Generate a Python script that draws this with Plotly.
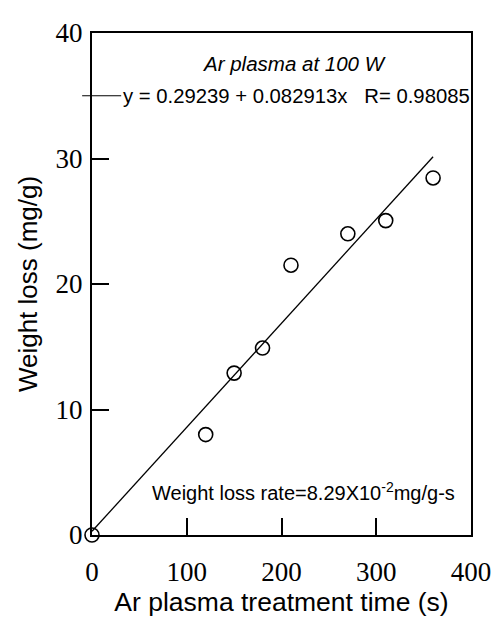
import plotly.graph_objects as go

# Data
time_s = [0, 120, 150, 180, 210, 270, 310, 360]
weight_loss = [0, 8.0, 12.9, 14.9, 21.5, 24.0, 25.05, 28.45]
fit_intercept = 0.29239
fit_slope = 0.082913
fit_r = 0.98085
fit_x = [0, 360]
fit_y = [fit_intercept + fit_slope * x for x in fit_x]
x_ticks = [0, 100, 200, 300, 400]
y_ticks = [0, 10, 20, 30, 40]

SANS = "Liberation Sans, Arial, sans-serif"
SERIF = "Liberation Serif, Times New Roman, serif"

fig = go.Figure()
fig.add_trace(go.Scatter(
    x=fit_x, y=fit_y, mode="lines",
    line=dict(color="black", width=1.3), showlegend=False,
))
fig.add_trace(go.Scatter(
    x=time_s, y=weight_loss, mode="markers",
    marker=dict(symbol="circle-open", size=14, color="black", line=dict(width=1.6)),
    cliponaxis=False, showlegend=False,
))

# legend-like line segment crossing the y axis
legend_y = 35
fig.add_shape(type="line", xref="paper", yref="y",
              x0=-0.026, x1=0.077, y0=legend_y, y1=legend_y,
              line=dict(color="black", width=1.2))

fig.add_annotation(x=30.5, y=legend_y, xref="x", yref="y", xanchor="left", yanchor="middle",
                   text=f"y = {fit_intercept} + {fit_slope}x   R= {fit_r}",
                   showarrow=False, font=dict(family=SANS, size=20.3, color="black"))
fig.add_annotation(x=213, y=37.6, xref="x", yref="y", xanchor="center", yanchor="middle",
                   text="<i>Ar plasma at 100 W</i>",
                   showarrow=False, font=dict(family=SANS, size=20.5, color="black"))
fig.add_annotation(x=385.5, y=3.5, xref="x", yref="y", xanchor="right", yanchor="middle",
                   text="Weight loss rate=8.29X10<sup>-2</sup>mg/g-s",
                   showarrow=False, font=dict(family=SANS, size=20, color="black"))

axis_common = dict(
    showline=True, linecolor="black", linewidth=2, mirror=True,
    ticks="inside", ticklen=17, tickwidth=2, tickcolor="black",
    showgrid=False, zeroline=False,
    tickfont=dict(family=SERIF, size=27, color="black"),
)
fig.update_xaxes(range=[0, 400], tickvals=x_ticks, ticklabelstandoff=12,
                 title=dict(text="Ar plasma treatment time (s)",
                            font=dict(family=SANS, size=26.5, color="black"), standoff=0),
                 **axis_common)
fig.update_yaxes(range=[0, 40], tickvals=y_ticks, ticklabelstandoff=2,
                 title=dict(text="Weight loss (mg/g)",
                            font=dict(family=SANS, size=26, color="black"), standoff=10),
                 **axis_common)

fig.update_layout(
    width=503, height=618,
    margin=dict(l=92, r=21, t=33, b=75),
    plot_bgcolor="white", paper_bgcolor="white",
)
fig.write_html("out.html", config={"displayModeBar": False},
               post_script="document.body.style.margin='0';")
